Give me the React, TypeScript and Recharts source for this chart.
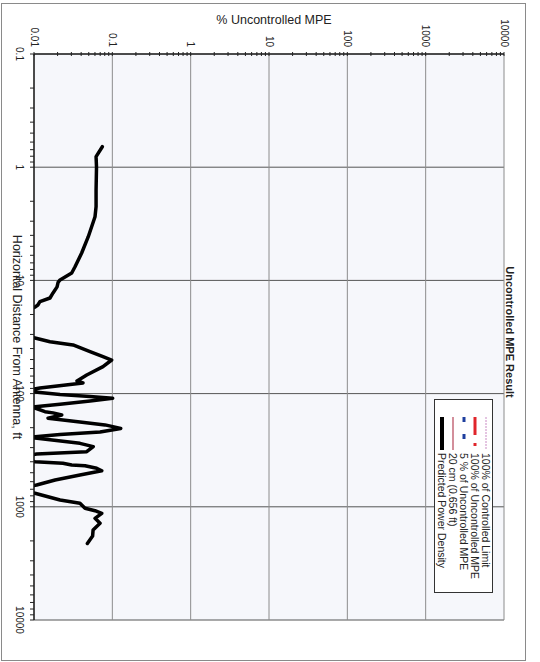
import React from 'react'
import { LineChart, Line, XAxis, YAxis, ReferenceLine, CartesianGrid } from 'recharts'

// horizontal distance from antenna (ft) and predicted power density (% uncontrolled MPE)
const distanceFt = [
  0.659, 0.807, 1.0, 1.59, 2.23, 2.74, 4.11, 5.73, 7.57, 8.6, 9.9, 10.4, 11.4, 12.9, 14.3,
  15.4, 16.5, 17.2, 20, 26, 31, 32.3, 34.8, 37.2, 42.6, 47.2, 50.5, 57.8, 68.5, 77.4, 80.6,
  89.3, 94, 96.8, 101.9, 106, 110, 116, 124, 130.6, 132, 134, 144.5, 148, 154.5, 165, 178,
  189, 203, 218, 230, 240, 244, 247, 275, 294, 326, 342, 370, 400, 413, 427, 434, 457, 480,
  524, 580, 641, 700, 760, 871, 931, 1031, 1082, 1141, 1264, 1399, 1603, 1811, 2109,
]
const mpePercent = [
  0.0745, 0.062, 0.0628, 0.062, 0.062, 0.0601, 0.0493, 0.0406, 0.0334, 0.0303, 0.0215, 0.0203,
  0.0197, 0.0175, 0.016, 0.0119, 0.0112, 0.0103, 0.006, 0.005, 0.008, 0.0103, 0.016, 0.0315,
  0.0519, 0.076, 0.098, 0.076, 0.0471, 0.0354, 0.0422, 0.0119, 0.008, 0.0103, 0.0215, 0.0519,
  0.101, 0.052, 0.0215, 0.0103, 0.008, 0.0103, 0.0138, 0.0175, 0.0226, 0.0151, 0.0386, 0.0807,
  0.128, 0.0697, 0.0215, 0.0103, 0.008, 0.0103, 0.0386, 0.0571, 0.0471, 0.0108, 0.006, 0.0103,
  0.0234, 0.0303, 0.0448, 0.0632, 0.0733, 0.0386, 0.0186, 0.0108, 0.006, 0.0103, 0.0215, 0.0386,
  0.0448, 0.0601, 0.0733, 0.0601, 0.0697, 0.0568, 0.056, 0.048,
]

const distDecades = [0.1, 1, 10, 100, 1000, 10000]
const distLabels = ['0.1', '1', '10', '100', '1000', '10000']
const mpeDecades = [0.01, 0.1, 1, 10, 100, 1000, 10000]
const mpeLabels = ['0.01', '0.1', '1', '10', '100', '1000', '10000']

const legendLabels = [
  '100% of Controlled Limit',
  '100% of Uncontrolled MPE',
  '5 % of Uncontrolled MPE',
  '20 cm (0.656 ft)',
  'Predicted Power Density',
]
const legendStrokes = ['#c98ac4', '#e0252b', '#1e3f9e', '#c46a7a', '#000']
const legendWidths = [1, 3, 3, 1.5, 4]
const legendDashes = ['2 1', '18 8 3 4', '5 12', undefined, undefined]

const data = distanceFt.map((d, i) => ({ dist: d, mpe: mpePercent[i] }))

// 1..9 per decade for the small tick marks
const minorTicks = (decades: number[]) =>
  decades.flatMap((d, i) =>
    i === decades.length - 1 ? [d] : [1, 2, 3, 4, 5, 6, 7, 8, 9].map((k) => (k === 1 ? d : +(d * k).toPrecision(3)))
  )

const W = 658
const H = 525
const FONT = '"Liberation Sans", Arial, sans-serif'

function DistTick(props: any) {
  const { x, y, payload } = props
  const i = distDecades.indexOf(payload.value)
  return (
    <g>
      <line x1={x} y1={y} x2={x} y2={y + 4} stroke="#222" />
      {i >= 0 && (
        <text x={x} y={y + 15} textAnchor="middle" dominantBaseline="central" fontSize={10} fill="#222" fontFamily={FONT}>
          {distLabels[i]}
        </text>
      )}
    </g>
  )
}

function MpeTick(props: any) {
  const { x, y, payload } = props
  const i = mpeDecades.indexOf(payload.value)
  return (
    <g>
      <line x1={x - 2} y1={y} x2={x + 2} y2={y} stroke="#222" />
      {i >= 0 && (
        <text x={x - 7} y={y} textAnchor="end" dominantBaseline="central" fontSize={10} fill="#222" fontFamily={FONT}>
          {mpeLabels[i]}
        </text>
      )}
    </g>
  )
}

function LegendBox() {
  return (
    <div
      style={{
        position: 'absolute',
        left: 396,
        top: 33,
        width: 194,
        height: 59,
        border: '1px solid #333',
        boxSizing: 'border-box',
        background: '#fff',
      }}
    >
      <svg width={192} height={57} style={{ display: 'block' }}>
        {legendLabels.map((label, i) => {
          const y = 6 + i * 11
          return (
            <g key={label}>
              <line
                x1={17}
                x2={50}
                y1={y}
                y2={y}
                stroke={legendStrokes[i]}
                strokeWidth={legendWidths[i]}
                strokeDasharray={legendDashes[i]}
              />
              <text x={53} y={y} dominantBaseline="central" fontSize={10.5} fill="#222" fontFamily={FONT}>
                {label}
              </text>
            </g>
          )
        })}
      </svg>
    </div>
  )
}

export default function App() {
  return (
    <div
      style={{
        position: 'absolute',
        left: 1,
        top: 3,
        width: W,
        height: H,
        transformOrigin: '0 0',
        transform: `translate(${H}px, 0) rotate(90deg)`,
        fontFamily: FONT,
        color: '#222',
        background: '#fff',
      }}
    >
      <div style={{ position: 'absolute', inset: 0, border: '1px solid #8a8a8a', boxSizing: 'border-box' }} />
      <LineChart width={W} height={H} data={data} margin={{ top: 22, right: 41, left: 0, bottom: 0 }}>
        <CartesianGrid horizontal={false} vertical={false} fill="#f6f7fb" />
        <XAxis
          dataKey="dist"
          type="number"
          scale="log"
          domain={[0.1, 10000]}
          allowDataOverflow
          ticks={minorTicks(distDecades)}
          interval={0}
          tickSize={0}
          tickMargin={0}
          tickLine={false}
          tick={<DistTick />}
          height={33}
          axisLine={{ stroke: '#111', strokeWidth: 1.5 }}
        />
        <YAxis
          dataKey="mpe"
          type="number"
          scale="log"
          domain={[0.01, 10000]}
          allowDataOverflow
          ticks={minorTicks(mpeDecades)}
          interval={0}
          tickSize={0}
          tickMargin={0}
          tickLine={false}
          tick={<MpeTick />}
          width={51}
          axisLine={{ stroke: '#111', strokeWidth: 1.5 }}
        />
        {distDecades.slice(1).map((d) => (
          <ReferenceLine key={'x' + d} x={d} stroke="#555" strokeWidth={1} />
        ))}
        {mpeDecades.slice(1).map((d) => (
          <ReferenceLine key={'y' + d} y={d} stroke="#8c8c8c" strokeWidth={1} />
        ))}
        <Line
          dataKey="mpe"
          type="linear"
          stroke="#000"
          strokeWidth={3.5}
          strokeLinejoin="round"
          strokeLinecap="round"
          dot={false}
          isAnimationActive={false}
        />
      </LineChart>
      <div
        style={{
          position: 'absolute',
          left: 329,
          top: 15.5,
          transform: 'translate(-50%, -50%)',
          fontWeight: 'bold',
          fontSize: 11,
          whiteSpace: 'nowrap',
        }}
      >
        Uncontrolled MPE Result
      </div>
      <div
        style={{
          position: 'absolute',
          left: 16.5,
          top: 252,
          transform: 'translate(-50%, -50%) rotate(-90deg)',
          fontSize: 12.5,
          whiteSpace: 'nowrap',
        }}
      >
        % Uncontrolled MPE
      </div>
      <div
        style={{
          position: 'absolute',
          left: 334,
          top: 508.5,
          transform: 'translate(-50%, -50%)',
          fontSize: 12.5,
          whiteSpace: 'nowrap',
        }}
      >
        Horizontal Distance From Antenna, ft
      </div>
      <LegendBox />
    </div>
  )
}
